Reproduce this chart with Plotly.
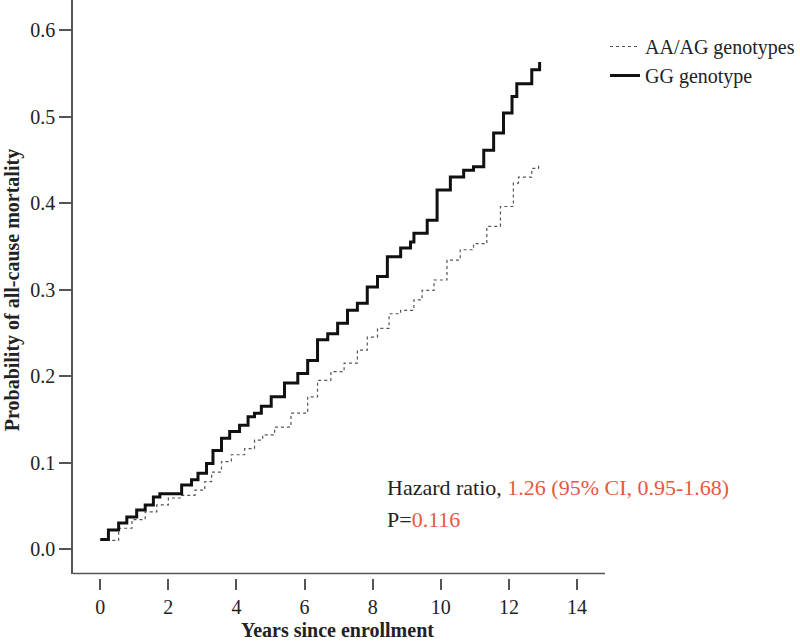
import plotly.graph_objects as go

# GG genotype (thick black step curve)
gg_years = [0, 0.24, 0.54, 0.78, 1.07, 1.32, 1.56, 1.75, 2.10, 2.39, 2.68, 2.87, 3.12, 3.31,
            3.56, 3.80, 4.09, 4.34, 4.53, 4.73, 5.02, 5.41, 5.80, 6.09, 6.38, 6.68, 6.97,
            7.26, 7.55, 7.84, 8.14, 8.43, 8.82, 9.11, 9.21, 9.60, 9.89, 10.28, 10.67, 10.96,
            11.26, 11.55, 11.84, 12.09, 12.23, 12.67, 12.90]
gg_prob = [0.011, 0.022, 0.030, 0.037, 0.045, 0.051, 0.060, 0.064, 0.064, 0.074, 0.080, 0.0875,
           0.099, 0.114, 0.128, 0.136, 0.143, 0.153, 0.157, 0.165, 0.176, 0.192, 0.203, 0.218,
           0.242, 0.249, 0.261, 0.276, 0.284, 0.303, 0.315, 0.338, 0.348, 0.355, 0.365, 0.380,
           0.415, 0.430, 0.438, 0.442, 0.461, 0.481, 0.504, 0.523, 0.538, 0.554, 0.563]

# AA/AG genotypes (thin dotted step curve)
aa_years = [0, 0.54, 0.93, 1.32, 1.66, 2.00, 2.39, 2.78, 3.07, 3.27, 3.56, 3.85, 4.24, 4.53,
            4.77, 5.12, 5.60, 6.09, 6.38, 6.77, 7.16, 7.55, 7.84, 8.14, 8.48, 8.82, 9.21, 9.45,
            9.80, 10.18, 10.57, 10.96, 11.35, 11.75, 12.13, 12.28, 12.67, 12.87]
aa_prob = [0.010, 0.024, 0.034, 0.043, 0.051, 0.059, 0.062, 0.068, 0.078, 0.089, 0.101, 0.109,
           0.116, 0.126, 0.132, 0.141, 0.157, 0.176, 0.195, 0.205, 0.215, 0.230, 0.245, 0.255,
           0.272, 0.276, 0.288, 0.299, 0.311, 0.334, 0.346, 0.353, 0.373, 0.396, 0.423, 0.430,
           0.440, 0.446]

x_ticks = [0, 2, 4, 6, 8, 10, 12, 14]
y_ticks = [0.0, 0.1, 0.2, 0.3, 0.4, 0.5, 0.6]
y_tick_labels = ["0.0", "0.1", "0.2", "0.3", "0.4", "0.5", "0.6"]

FONT = "Liberation Serif"
RED = "#e9573f"
AXC = "#555555"
TXT = "#222222"

fig = go.Figure()
fig.add_trace(go.Scatter(x=aa_years, y=aa_prob, mode="lines", line_shape="hv",
                         name="AA/AG genotypes",
                         line=dict(color="#555555", width=1.2, dash="dot")))
fig.add_trace(go.Scatter(x=gg_years, y=gg_prob, mode="lines", line_shape="hv",
                         name="GG genotype",
                         line=dict(color="#111111", width=3)))

H_PLOT = 578.0
W_PLOT = 534.0
ydom0 = (H_PLOT - 573.5) / H_PLOT

fig.update_layout(
    width=800, height=644,
    margin=dict(l=73, r=800 - 73 - int(W_PLOT), t=0, b=644 - int(H_PLOT)),
    paper_bgcolor="white", plot_bgcolor="white",
    font=dict(family=FONT, size=20, color=TXT),
    showlegend=True,
    legend=dict(x=1.0, xanchor="left", y=1 - 27 / H_PLOT, yanchor="top",
                font=dict(family=FONT, size=20, color=TXT),
                bgcolor="rgba(0,0,0,0)", itemwidth=30, tracegroupgap=0),
    xaxis=dict(range=[-0.8, 14.82], tickvals=x_ticks, ticktext=[str(v) for v in x_ticks],
               showgrid=False, zeroline=False, showline=False,
               ticks="outside", ticklen=11, tickwidth=1.5, tickcolor=AXC,
               anchor="free", position=0,
               tickfont=dict(family=FONT, size=20, color=TXT)),
    yaxis=dict(range=[-0.0283, 0.6347], tickvals=y_ticks, ticktext=y_tick_labels,
               domain=[ydom0, 1],
               showgrid=False, zeroline=False, showline=True, linecolor=AXC, linewidth=1.5,
               ticks="outside", ticklen=12, tickwidth=1.5, tickcolor=AXC,
               tickfont=dict(family=FONT, size=20, color=TXT)),
    shapes=[dict(type="line", xref="paper", yref="paper", x0=0, x1=1, y0=ydom0, y1=ydom0,
                 line=dict(color=AXC, width=1.5))],
    annotations=[
        dict(text="<b>Probability of all-cause mortality</b>", xref="paper", yref="paper",
             x=(12 - 73) / W_PLOT, y=1 - 290 / H_PLOT, textangle=-90, showarrow=False,
             xanchor="center", yanchor="middle", font=dict(family=FONT, size=20, color=TXT)),
        dict(text="<b>Years since enrollment</b>", xref="paper", yref="paper",
             x=(338 - 73) / W_PLOT, y=(H_PLOT - 630) / H_PLOT, showarrow=False,
             xanchor="center", yanchor="middle", font=dict(family=FONT, size=20, color=TXT)),
        dict(text="Hazard ratio, <span style='color:%s'>1.26 (95%% CI, 0.95-1.68)</span>" % RED,
             xref="paper", yref="paper", x=(386 - 73) / W_PLOT, y=1 - 487 / H_PLOT,
             showarrow=False, xanchor="left", yanchor="middle",
             font=dict(family=FONT, size=22, color=TXT)),
        dict(text="P=<span style='color:%s'>0.116</span>" % RED,
             xref="paper", yref="paper", x=(386 - 73) / W_PLOT, y=1 - 519 / H_PLOT,
             showarrow=False, xanchor="left", yanchor="middle",
             font=dict(family=FONT, size=22, color=TXT)),
    ],
)

fig.write_html("out.html", config={"displayModeBar": False},
               post_script="document.body.style.margin='0';")
